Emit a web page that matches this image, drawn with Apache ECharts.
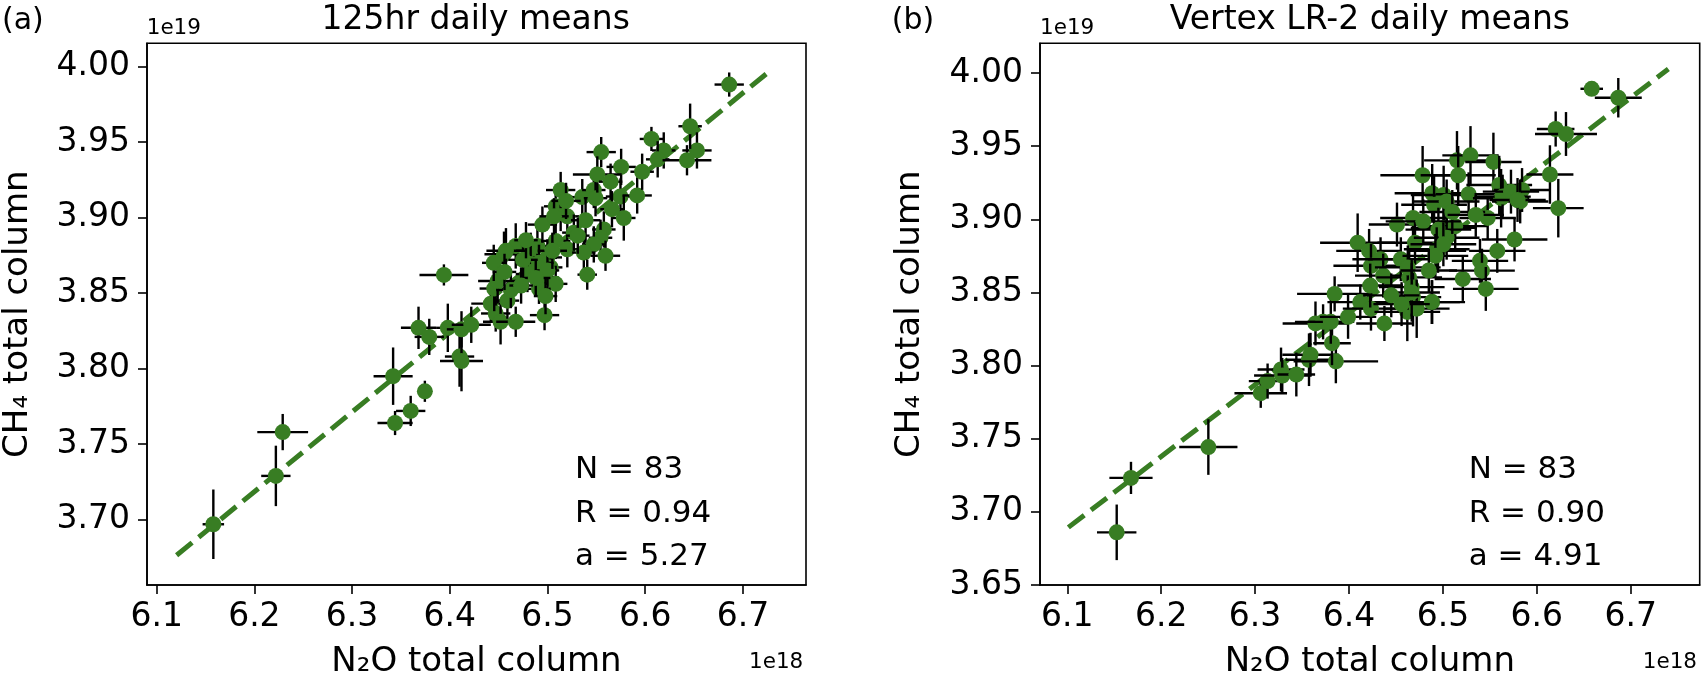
<!DOCTYPE html>
<html>
<head>
<meta charset="utf-8">
<script src="https://cdn.jsdelivr.net/npm/echarts@6/dist/echarts.min.js"></script>
<style>
html,body{margin:0;padding:0;background:#fff;}
#chart{width:1702px;height:684px;}
</style>
</head>
<body>
<div id="chart"></div>
<script>
// ---------- data (panel a: 125hr) ----------
const n2oA = [6.158,6.222,6.229,6.342,6.3745,6.360,6.344,6.394,6.368,6.379,6.398,6.410,6.412,6.412,6.422,6.442,6.447,6.452,6.4675,6.497,
6.4455,6.449,6.459,6.4625,6.4555,6.4675,6.4828,6.4897,6.5084,6.5203,6.4999,6.4828,6.5033,6.4795,6.4964,6.5084,6.4913,6.4948,6.5084,6.5135,
6.5203,6.5067,6.5135,6.5356,6.5474,6.5492,6.5747,6.5918,6.5781,6.539,6.5577,6.5543,6.5474,6.5372,6.5594,6.5407,6.555,6.5754,6.5969,6.551,
6.5646,6.6064,6.619,6.6128,6.653,6.6428,6.646,6.686,6.4913,6.500,6.475,6.488,6.505,6.478,6.445,6.4575,6.527,6.531,6.566,6.519,
6.473,6.498,6.456];
const ch4A = [3.697,3.729,3.758,3.795,3.785,3.772,3.764,3.862,3.827,3.821,3.827,3.808,3.805,3.826,3.829,3.843,3.8365,3.831,3.831,3.8354,
3.853,3.858,3.845,3.852,3.8757,3.8812,3.878,3.8812,3.8845,3.879,3.8736,3.8692,3.867,3.8626,3.8605,3.8561,3.8528,3.8953,3.9074,3.903,
3.9008,3.9008,3.9182,3.9135,3.9182,3.9128,3.9139,3.9146,3.8997,3.8982,3.8921,3.8866,3.8822,3.8768,3.8747,3.8622,3.9433,3.9335,3.9303,3.9285,
3.9237,3.952,3.9444,3.9385,3.9444,3.9379,3.9604,3.988,3.870,3.865,3.872,3.860,3.878,3.885,3.870,3.878,3.890,3.888,3.9055,3.911,
3.855,3.848,3.864];
const n2oErrA = [0.011,0.015,0.026,0.020,0.005,0.015,0.018,0.025,0.018,0.015,0.012,0.015,0.022,0.015,0.020,0.020,0.015,0.018,0.020,0.015,
0.015,0.020,0.012,0.015,0.020,0.015,0.015,0.012,0.015,0.015,0.015,0.015,0.012,0.012,0.015,0.012,0.012,0.015,0.012,0.012,
0.012,0.015,0.015,0.012,0.012,0.012,0.015,0.015,0.012,0.015,0.012,0.012,0.012,0.012,0.015,0.010,0.015,0.015,0.012,0.025,
0.012,0.012,0.012,0.012,0.015,0.025,0.012,0.015,0.015,0.012,0.015,0.015,0.015,0.012,0.012,0.020,0.012,0.012,0.012,0.015,
0.012,0.012,0.012];
const ch4ErrA = [0.023,0.020,0.012,0.019,0.007,0.010,0.008,0.007,0.014,0.012,0.016,0.020,0.020,0.012,0.012,0.012,0.012,0.015,0.010,0.010,
0.015,0.015,0.012,0.012,0.015,0.015,0.012,0.012,0.012,0.012,0.012,0.012,0.012,0.012,0.010,0.012,0.010,0.012,0.012,0.012,
0.012,0.012,0.012,0.012,0.012,0.012,0.012,0.012,0.015,0.015,0.012,0.012,0.012,0.012,0.010,0.010,0.010,0.012,0.012,0.012,
0.012,0.008,0.012,0.012,0.012,0.010,0.015,0.008,0.012,0.012,0.012,0.012,0.012,0.012,0.012,0.015,0.012,0.012,0.012,0.012,
0.012,0.012,0.012];
const fitA = [[6.1204,3.6765],[6.725,3.9956]];
const statsA = ['N = 83','R = 0.94','a = 5.27'];

// ---------- data (panel b: Vertex LR-2) ----------
const n2oB = [6.1526,6.1678,6.2502,6.306,6.3133,6.3276,6.3289,6.3439,6.3574,6.359,6.386,6.3819,6.3643,6.3724,6.3806,6.399,6.3847,6.412,6.4234,6.4377,
6.4092,6.4214,6.4234,6.4336,6.4226,6.4364,6.4511,6.4552,6.4682,6.4703,6.4641,6.4621,6.4682,6.4886,6.4784,6.4886,6.5008,6.4906,6.515,6.5294,
6.5163,6.5538,6.5274,6.5008,6.5131,6.4948,6.5212,6.5395,6.5416,6.5457,6.5477,6.5579,6.560,6.562,6.5763,6.5843,6.5823,6.6585,6.6868,6.6201,
6.6311,6.614,6.6229,6.5636,6.5725,6.5795,6.504,6.4791,6.4952,6.504,6.4934,6.5005,6.492,6.4626,6.4668,6.4721,6.4881,6.4668,6.456,6.510,
6.485,6.535,6.445];
const ch4B = [3.686,3.7232,3.7443,3.7811,3.7894,3.7973,3.7932,3.7939,3.804,3.8074,3.8029,3.8153,3.8288,3.8299,3.8299,3.8333,3.849,3.8434,3.8389,3.8288,
3.884,3.8784,3.8682,3.8727,3.8547,3.8615,3.8964,3.8727,3.9009,3.884,3.8603,3.8367,3.8468,3.8434,3.9301,3.9178,3.9166,3.9099,3.9403,3.9437,
3.9301,3.9392,3.9171,3.8941,3.8953,3.8784,3.8592,3.8716,3.8649,3.8524,3.9009,3.8784,3.9234,3.9144,3.8862,3.920,3.9122,3.9892,3.9831,3.9617,
3.9583,3.9306,3.9076,3.9155,3.9189,3.9132,3.9122,3.8986,3.8929,3.8874,3.8795,3.8829,3.875,3.8671,3.8536,3.8389,3.8434,3.850,3.842,3.905,
3.865,3.903,3.848];
const n2oErrB = [0.021,0.023,0.031,0.028,0.020,0.025,0.030,0.020,0.025,0.030,0.045,0.020,0.035,0.030,0.025,0.030,0.040,0.035,0.030,0.030,
0.040,0.035,0.040,0.030,0.035,0.030,0.030,0.035,0.035,0.040,0.035,0.035,0.030,0.035,0.045,0.040,0.035,0.035,0.035,0.030,
0.040,0.030,0.035,0.035,0.035,0.030,0.030,0.030,0.035,0.035,0.030,0.030,0.035,0.030,0.035,0.030,0.030,0.012,0.025,0.020,
0.033,0.025,0.027,0.030,0.030,0.030,0.035,0.040,0.035,0.035,0.035,0.035,0.035,0.035,0.035,0.035,0.030,0.030,0.030,0.035,
0.030,0.030,0.030];
const ch4ErrB = [0.019,0.011,0.019,0.010,0.012,0.015,0.012,0.015,0.018,0.015,0.015,0.015,0.015,0.012,0.015,0.015,0.012,0.012,0.015,0.012,
0.020,0.015,0.015,0.015,0.015,0.015,0.015,0.015,0.015,0.015,0.020,0.020,0.020,0.015,0.020,0.020,0.020,0.020,0.020,0.020,
0.020,0.020,0.015,0.015,0.015,0.015,0.015,0.015,0.015,0.015,0.015,0.015,0.020,0.020,0.015,0.015,0.015,0.003,0.0135,0.012,
0.015,0.020,0.020,0.015,0.015,0.015,0.015,0.015,0.015,0.015,0.015,0.015,0.015,0.015,0.020,0.020,0.015,0.020,0.015,0.015,
0.015,0.015,0.015];
const fitB = [[6.1011,3.6894],[6.7401,4.0027]];
const statsB = ['N = 83','R = 0.90','a = 4.91'];

// ---------- tick labels ----------
const xTicks = [6.1,6.2,6.3,6.4,6.5,6.6,6.7];
const yTicksA = [3.70,3.75,3.80,3.85,3.90,3.95,4.00];
const yTicksB = [3.65,3.70,3.75,3.80,3.85,3.90,3.95,4.00];
const titles = ['125hr daily means','Vertex LR-2 daily means'];
const panelTags = ['(a)','(b)'];
const xName = 'N₂O total column';
const yName = 'CH₄ total column';

// ---------- build ----------
const GREEN = '#387d23';
const FONT = 'DejaVu Sans';
const zip = (a,b,c,d) => a.map((v,i)=>[v,b[i],c[i],d[i]]);
const dataA = zip(n2oA, ch4A, n2oErrA, ch4ErrA);
const dataB = zip(n2oB, ch4B, n2oErrB, ch4ErrB);

const chart = echarts.init(document.getElementById('chart'), null, {renderer:'canvas'});

function xAxis(gi, min, max){
  return {
    type:'value', gridIndex:gi, min:min, max:max,
    name:xName, nameLocation:'middle', nameGap:60,
    nameTextStyle:{fontFamily:FONT,fontSize:34,color:'#000'},
    axisLine:{show:true,onZero:false,lineStyle:{color:'#000',width:1.6}},
    axisTick:{show:true,inside:false,length:9,customValues:xTicks,lineStyle:{color:'#000',width:1.6}},
    axisLabel:{show:true,margin:16,customValues:xTicks,fontFamily:FONT,fontSize:33,color:'#000',
      formatter:v=>Number(v).toFixed(1)},
    splitLine:{show:false}
  };
}
function yAxis(gi, min, max, ticks, gap){
  return {
    type:'value', gridIndex:gi, min:min, max:max,
    name:yName, nameLocation:'middle', nameGap:gap,
    nameTextStyle:{fontFamily:FONT,fontSize:34,color:'#000'},
    axisLine:{show:true,onZero:false,lineStyle:{color:'#000',width:1.6}},
    axisTick:{show:true,inside:false,length:9,customValues:ticks,lineStyle:{color:'#000',width:1.6}},
    axisLabel:{show:true,margin:17,customValues:ticks,fontFamily:FONT,fontSize:33,color:'#000',
      formatter:v=>Number(v).toFixed(2)},
    splitLine:{show:false}
  };
}
function errSeries(gi, data){
  return {
    type:'custom', xAxisIndex:gi, yAxisIndex:gi, z:3,
    encode:{x:0,y:1},
    data:data,
    renderItem:function(params, api){
      const x=api.value(0), y=api.value(1), xe=api.value(2), ye=api.value(3);
      const c=api.coord([x,y]);
      const l=api.coord([x-xe,y]), r=api.coord([x+xe,y]);
      const t=api.coord([x,y+ye]), b=api.coord([x,y-ye]);
      return {type:'group', children:[
        {type:'line', shape:{x1:l[0],y1:l[1],x2:r[0],y2:r[1]}, style:{stroke:'#000',lineWidth:2.4}},
        {type:'line', shape:{x1:t[0],y1:t[1],x2:b[0],y2:b[1]}, style:{stroke:'#000',lineWidth:2.4}},
        {type:'circle', shape:{cx:c[0],cy:c[1],r:8}, style:{fill:GREEN}}
      ]};
    }
  };
}
function fitSeries(gi, data){
  return {
    type:'line', xAxisIndex:gi, yAxisIndex:gi, z:2, data:data,
    showSymbol:false, symbol:'none', silent:true, animation:false,
    lineStyle:{color:GREEN,width:5,type:[20,8.5],cap:'butt'}
  };
}
function txt(text, x, y, size, align, extra){
  return Object.assign({type:'text', x:x, y:y, silent:true,
    style:{text:text, fontFamily:FONT, fontSize:size, fill:'#000', align:align, verticalAlign:'middle'}}, extra||{});
}

const graphics = [
  txt(titles[0], 475.7, 20, 33, 'center'),
  txt(titles[1], 1369.9, 20, 33, 'center'),
  txt(panelTags[0], 2, 21, 30, 'left'),
  txt(panelTags[1], 891.7, 21, 30, 'left'),
  txt('1e19', 146.7, 28, 21.5, 'left'),
  txt('1e19', 1040, 28, 21.5, 'left'),
  txt('1e18', 803.3, 662.4, 21.5, 'right'),
  txt('1e18', 1697, 662.4, 21.5, 'right'),
  txt(statsA[0], 575, 470, 31, 'left'),
  txt(statsA[1], 575, 514, 31, 'left'),
  txt(statsA[2], 575, 557.3, 31, 'left'),
  txt(statsB[0], 1468.7, 470, 31, 'left'),
  txt(statsB[1], 1468.7, 514, 31, 'left'),
  txt(statsB[2], 1468.7, 557.3, 31, 'left')
];

chart.setOption({
  animation:false,
  backgroundColor:'#fff',
  grid:[
    {left:145.3, right:896, top:43.3, bottom:92.7, show:true, borderColor:'#000', borderWidth:1.6, backgroundColor:'transparent'},
    {left:1040, right:2.3, top:43.3, bottom:92.7, show:true, borderColor:'#000', borderWidth:1.6, backgroundColor:'transparent'}
  ],
  xAxis:[xAxis(0, 6.0901, 6.7646), xAxis(1, 6.0709, 6.7735)],
  yAxis:[yAxis(0, 3.6568, 4.0153, yTicksA, 112), yAxis(1, 3.65, 4.0203, yTicksB, 113)],
  series:[fitSeries(0, fitA), errSeries(0, dataA), fitSeries(1, fitB), errSeries(1, dataB)],
  graphic:graphics
});
</script>
</body>
</html>
